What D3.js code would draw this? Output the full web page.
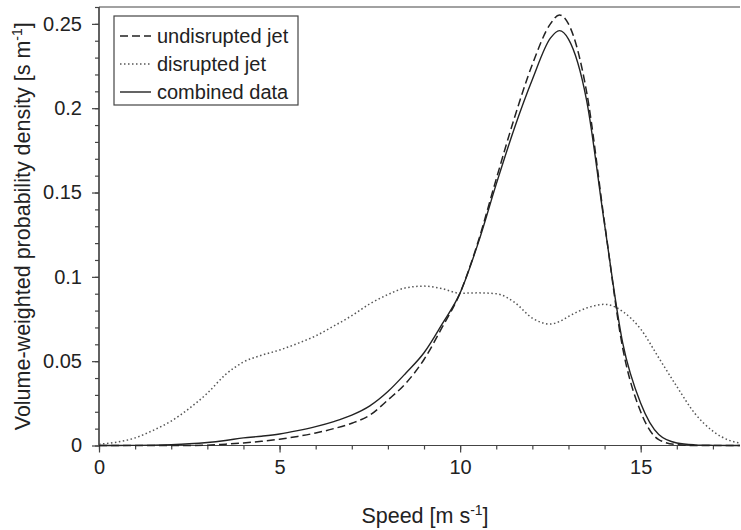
<!DOCTYPE html>
<html>
<head>
<meta charset="utf-8">
<script src="https://cdn.jsdelivr.net/npm/d3@7"></script>
<style>
  body { margin: 0; background: #fff; }
  svg { display: block; font-family: "Liberation Sans", Arial, sans-serif; }
</style>
</head>
<body>
<script>
// speed grid [m s-1]
var speeds = [0,0.5,1,1.5,2,2.5,3,3.5,4,4.5,5,5.5,6,6.5,7,7.5,8,8.5,9,9.5,10,10.5,11,11.5,12,12.5,12.75,13,13.5,14,14.5,15,15.5,16,16.5,17,17.5,17.75]

var undisrupted = [0,0,0,0,0,0,0.0002,0.0008,0.0015,0.0025,0.0037,0.0054,0.0074,0.0100,0.0132,0.018,0.027,0.037,0.051,0.070,0.0905,0.121,0.158,0.194,0.226,0.250,0.2553,0.250,0.210,0.132,0.058,0.020,0.0035,0.0005,0,0,0,0]
var disrupted = [0.0008,0.002,0.0045,0.009,0.0145,0.022,0.031,0.042,0.0495,0.0535,0.0566,0.0605,0.065,0.0708,0.077,0.084,0.0895,0.0935,0.0945,0.093,0.0903,0.0905,0.090,0.085,0.0755,0.072,0.0735,0.0765,0.0815,0.0837,0.0795,0.069,0.052,0.035,0.019,0.0085,0.0027,0.0015]
var combined = [0,0,0.0001,0.0002,0.0005,0.001,0.0018,0.003,0.0045,0.0055,0.0068,0.0088,0.0112,0.0142,0.018,0.0235,0.032,0.043,0.055,0.072,0.0905,0.120,0.155,0.188,0.217,0.2415,0.246,0.241,0.205,0.131,0.061,0.025,0.0065,0.0015,0.0004,0.0001,0,0]

var xTicks = [0,5,10,15]
var yTicks = [0,0.05,0.1,0.15,0.2,0.25]
var legendLabels = ["undisrupted jet","disrupted jet","combined data"]

var W = 741, H = 530
// plot edges (window.top is reserved, so use own names)
var pL = 99, pR = 740, pT = 7, pB = 445.5

var svg = d3.select('body').append('svg')
	.attr('width', W)
	.attr('height', H)

var x = d3.scaleLinear().domain([0, 17.75]).range([pL, pR])
var y = d3.scaleLinear().domain([0, 0.26]).range([pB, pT])

// top frame line
svg.append('line')
	.attr('x1', pL).attr('x2', pR)
	.attr('y1', pT).attr('y2', pT)
	.style('stroke', '#444').style('stroke-width', 1.2)

// minor + major ticks
var gx = svg.append('g').attr('transform', 'translate(0,'+pB+')')
gx.append('g').call(d3.axisBottom(x).tickValues(d3.range(0, 18, 1)).tickSize(4).tickFormat(''))
gx.append('g').call(d3.axisBottom(x).tickValues(xTicks).tickSize(7).tickFormat(d3.format('d')).tickPadding(7))
gx.selectAll('.domain').attr('d', 'M'+pL+',0H'+pR)

var gy = svg.append('g').attr('transform', 'translate('+pL+',0)')
gy.append('g').call(d3.axisLeft(y).tickValues(d3.range(0, 0.2601, 0.01)).tickSize(4).tickFormat(''))
gy.append('g').call(d3.axisLeft(y).tickValues(yTicks).tickSize(7).tickFormat(function(d){ return d === 0 ? '0' : String(+d.toFixed(2)) }).tickPadding(10))
gy.selectAll('.domain').attr('d', 'M0,'+pT+'V'+pB)

svg.selectAll('.domain, .tick line').style('stroke', '#444').style('stroke-width', 1.2)
svg.selectAll('.tick text').style('font-size', '20px').style('fill', '#222').style('font-family', '"Liberation Sans", Arial, sans-serif')

// axis titles
var xl = svg.append('text')
	.attr('x', 425).attr('y', 523)
	.attr('text-anchor', 'middle')
	.style('font-size', '21.5px').style('fill', '#222')
xl.append('tspan').text('Speed [m s')
xl.append('tspan').text('-1').attr('dy', -8).style('font-size', '14px')
xl.append('tspan').text(']').attr('dy', 8)

var yl = svg.append('text')
	.attr('transform', 'translate(30,'+((pT+pB)/2)+') rotate(-90)')
	.attr('text-anchor', 'middle')
	.style('font-size', '21.5px').style('fill', '#222')
yl.append('tspan').text('Volume-weighted probability density [s m')
yl.append('tspan').text('-1').attr('dy', -8).style('font-size', '14px')
yl.append('tspan').text(']').attr('dy', 8)

var line = function(vals){
	return d3.line()
		.x(function(d, i){ return x(speeds[i]) })
		.y(function(d){ return y(d) })
		.curve(d3.curveMonotoneX)(vals)
}

var styles = [
	{ vals: undisrupted, dash: '8,4', color: '#222', w: 1.5 },
	{ vals: disrupted, dash: '1.5,2.5', color: '#555', w: 1.5 },
	{ vals: combined, dash: null, color: '#222', w: 1.4 }
]

styles.forEach(function(s){
	svg.append('path')
		.attr('d', line(s.vals))
		.attr('fill', 'none')
		.style('stroke', s.color)
		.style('stroke-width', s.w)
		.style('stroke-dasharray', s.dash)
})

// legend
var legend = svg.append('g')
legend.append('rect')
	.attr('x', 114).attr('y', 16)
	.attr('width', 184).attr('height', 89)
	.attr('fill', '#fff')
	.style('stroke', '#444').style('stroke-width', 1.2)

legendLabels.forEach(function(lab, i){
	var yy = 36 + i*28
	legend.append('line')
		.attr('x1', 120).attr('x2', 151)
		.attr('y1', yy).attr('y2', yy)
		.style('stroke', styles[i].color)
		.style('stroke-width', styles[i].w)
		.style('stroke-dasharray', styles[i].dash)
	legend.append('text')
		.attr('x', 157).attr('y', yy + 7)
		.style('font-size', '20px').style('fill', '#222')
		.text(lab)
})
</script>
</body>
</html>
